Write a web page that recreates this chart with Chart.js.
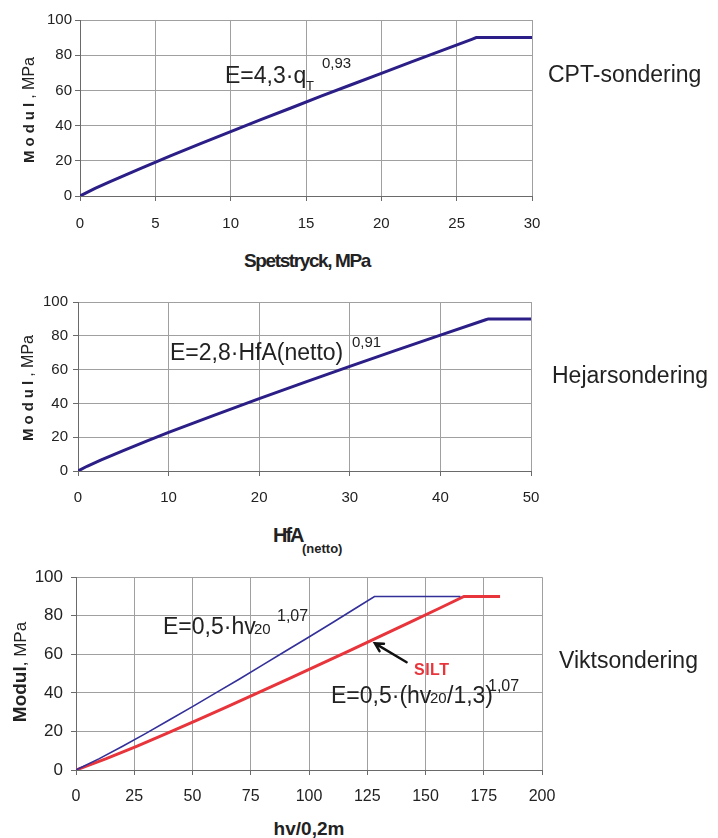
<!DOCTYPE html>
<html>
<head>
<meta charset="utf-8">
<script src="https://cdn.jsdelivr.net/npm/chart.js@4.4.1/dist/chart.umd.min.js"></script>
<style>
  body { margin: 0; background: #fff; }
  #page { position: relative; width: 718px; height: 838px; overflow: hidden;
          font-family: 'Liberation Sans', Arial, sans-serif; color: #222; }
  .plot { position: absolute; left: 0; }
  .txt { position: absolute; white-space: nowrap; line-height: 1; z-index: 2; }
  .ytitle { position: absolute; white-space: nowrap; line-height: 1; z-index: 2;
            transform: translate(-50%, -50%) rotate(-90deg); }
</style>
</head>
<body>
<div id="page">
  <div class="plot" style="top:8px"><canvas id="c1" width="560" height="232"></canvas></div>
  <div class="plot" style="top:288px"><canvas id="c2" width="560" height="227"></canvas></div>
  <div class="plot" style="top:559px"><canvas id="c3" width="570" height="255"></canvas></div>
</div>
<script>
// CPT-sondering: E = 4,3 * qT^0,93, capped at 90 MPa
const cptQ = [0, 1, 2, 3, 4, 6, 8, 10, 12, 14, 16, 18, 20, 22, 24, 26, 26.3, 30];
const cptE = [0, 4.3, 8.2, 11.9, 15.6, 22.8, 29.7, 36.6, 43.4, 50.0, 56.7, 63.2, 69.7, 76.2, 82.6, 89.0, 90, 90];

// Hejarsondering: E = 2,8 * HfA(netto)^0,91
const hfaN = [0, 1, 2.5, 5, 7.5, 10, 15, 20, 25, 30, 35, 40, 45, 45.3, 50];
const hfaE = [0, 2.8, 6.4, 12.1, 17.5, 22.8, 32.9, 42.8, 52.4, 61.9, 71.2, 80.4, 89.5, 90, 90];

// Viktsondering: E = 0,5 * hv20^1,07 (blue) and SILT E = 0,5 * (hv20/1,3)^1,07 (red)
const hvX = [0, 10, 20, 30, 40, 50, 60, 70, 80, 90, 100, 110, 120, 128.1, 165];
const hvE = [0, 5.9, 12.3, 19.0, 25.9, 32.9, 40.0, 47.1, 54.4, 61.7, 69.0, 76.4, 83.9, 90, 90];
const siltX = [0, 13, 26, 39, 52, 65, 78, 91, 104, 117, 130, 143, 156, 166.5, 182];
const siltE = [0, 5.9, 12.3, 19.0, 25.9, 32.9, 40.0, 47.1, 54.4, 61.7, 69.0, 76.4, 83.9, 90, 90];

// SILT arrow, in data units of the bottom chart
const arrowTip = { x: 128.3, y: 65.7 };
const arrowTail = { x: 141.9, y: 55.9 };

const NAVY = '#2b1e86';
const BLUE = '#33309a';
const RED = '#e8343b';
const GRID = '#a0a0a0';
const AXIS = '#6a6a6a';
const FONT = "'Liberation Sans', Arial, sans-serif";

function makeChart(id, o) {
    return new Chart(document.getElementById(id), {
        type: 'line',
        data: {
            datasets: o.series.map(s => ({
                data: s.x.map((x, i) => ({ x, y: s.y[i] })),
                borderColor: s.color,
                borderWidth: s.width,
                pointRadius: 0,
                tension: 0,
                fill: false,
            })),
        },
        options: {
            responsive: false,
            animation: false,
            layout: { padding: { top: 10, right: o.padRight, left: 0, bottom: 0 } },
            plugins: { legend: { display: false }, tooltip: { enabled: false } },
            scales: {
                x: {
                    type: 'linear', min: 0, max: o.xMax,
                    ticks: { stepSize: o.xStep, color: '#222', padding: o.xPad, maxRotation: 0,
                             font: { family: FONT, size: o.tickSize } },
                    grid: { color: GRID, tickColor: AXIS, tickLength: 5 },
                    border: { color: AXIS },
                    afterFit: s => { s.height = 44; },
                },
                y: {
                    min: 0, max: 100,
                    ticks: { stepSize: 20, color: '#222', padding: o.yPad,
                             font: { family: FONT, size: o.yTickSize } },
                    grid: { color: GRID, tickColor: AXIS, tickLength: 5 },
                    border: { color: AXIS },
                    afterFit: s => { s.width = o.left; },
                },
            },
        },
        plugins: o.plugins || [],
    });
}

const arrowPlugin = {
    id: 'siltArrow',
    afterDatasetsDraw(chart) {
        const { ctx, scales } = chart;
        const x1 = scales.x.getPixelForValue(arrowTail.x), y1 = scales.y.getPixelForValue(arrowTail.y);
        const x2 = scales.x.getPixelForValue(arrowTip.x), y2 = scales.y.getPixelForValue(arrowTip.y);
        const a = Math.atan2(y2 - y1, x2 - x1);
        ctx.save();
        ctx.strokeStyle = '#111';
        ctx.lineWidth = 2.5;
        ctx.lineCap = 'round';
        ctx.beginPath();
        ctx.moveTo(x1, y1);
        ctx.lineTo(x2, y2);
        ctx.moveTo(x2 - 9 * Math.cos(a - 0.5), y2 - 9 * Math.sin(a - 0.5));
        ctx.lineTo(x2, y2);
        ctx.lineTo(x2 - 9 * Math.cos(a + 0.5), y2 - 9 * Math.sin(a + 0.5));
        ctx.stroke();
        ctx.restore();
    },
};

makeChart('c1', {
    series: [{ x: cptQ, y: cptE, color: NAVY, width: 3 }],
    xMax: 30, xStep: 5, left: 80, padRight: 28, xPad: 14, yPad: 3, tickSize: 15, yTickSize: 15,
});
makeChart('c2', {
    series: [{ x: hfaN, y: hfaE, color: NAVY, width: 3 }],
    xMax: 50, xStep: 10, left: 78, padRight: 29, xPad: 13, yPad: 5, tickSize: 15, yTickSize: 15,
});
makeChart('c3', {
    series: [
        { x: hvX, y: hvE, color: BLUE, width: 1.6 },
        { x: siltX, y: siltE, color: RED, width: 3 },
    ],
    xMax: 200, xStep: 25, left: 76, padRight: 28, xPad: 12, yPad: 8, tickSize: 16, yTickSize: 17,
    plugins: [arrowPlugin],
});

// Text overlays
const page = document.getElementById('page');
function addText(html, x, baseline, size, style) {
    const d = document.createElement('div');
    d.className = 'txt';
    d.innerHTML = html;
    d.style.cssText = `left:${x}px;top:${baseline - 0.8465 * size}px;font-size:${size}px;${style || ''}`;
    page.appendChild(d);
}
function addYTitle(cx, cy, modulSize, mpaSize, spacing) {
    const d = document.createElement('div');
    d.className = 'ytitle';
    d.style.left = cx + 'px';
    d.style.top = cy + 'px';
    d.innerHTML = `<span style="font-weight:bold;font-size:${modulSize}px;letter-spacing:${spacing}px">Modul</span>` +
        `<span style="font-size:${mpaSize}px">, MPa</span>`;
    page.appendChild(d);
}

// chart 1
addText('E=4,3·q', 225, 83, 23);
addText('T', 306, 90, 13);
addText('0,93', 322, 68, 15);
addText('CPT-sondering', 548, 82, 23);
addText('Spetstryck, MPa', 307, 267, 19, 'font-weight:bold;letter-spacing:-1.4px;transform:translateX(-50%)');
addYTitle(29, 110, 15, 16, 4);

// chart 2
addText('E=2,8·HfA(netto)', 170, 360, 23);
addText('0,91', 352, 347, 15);
addText('Hejarsondering', 552, 383, 23);
addText('HfA', 273, 542, 20, 'font-weight:bold;letter-spacing:-2px');
addText('(netto)', 302, 553, 13, 'font-weight:bold');
addYTitle(28, 388, 15, 16, 4);

// chart 3
addText('E=0,5·hv', 163, 634, 23);
addText('20', 254, 634, 15);
addText('1,07', 277, 622, 16);
addText('E=0,5·(hv', 331, 703, 23);
addText('20', 430, 703, 15);
addText('/1,3)', 447, 703, 23);
addText('1,07', 488, 692, 16);
addText('SILT', 414, 676, 16, `font-weight:bold;color:${RED};letter-spacing:0.5px`);
addText('Viktsondering', 559, 668, 23);
addText('hv/0,2m', 309, 835, 19, 'font-weight:bold;transform:translateX(-50%)');
addYTitle(19, 672, 19, 17, 0);
</script>
</body>
</html>
